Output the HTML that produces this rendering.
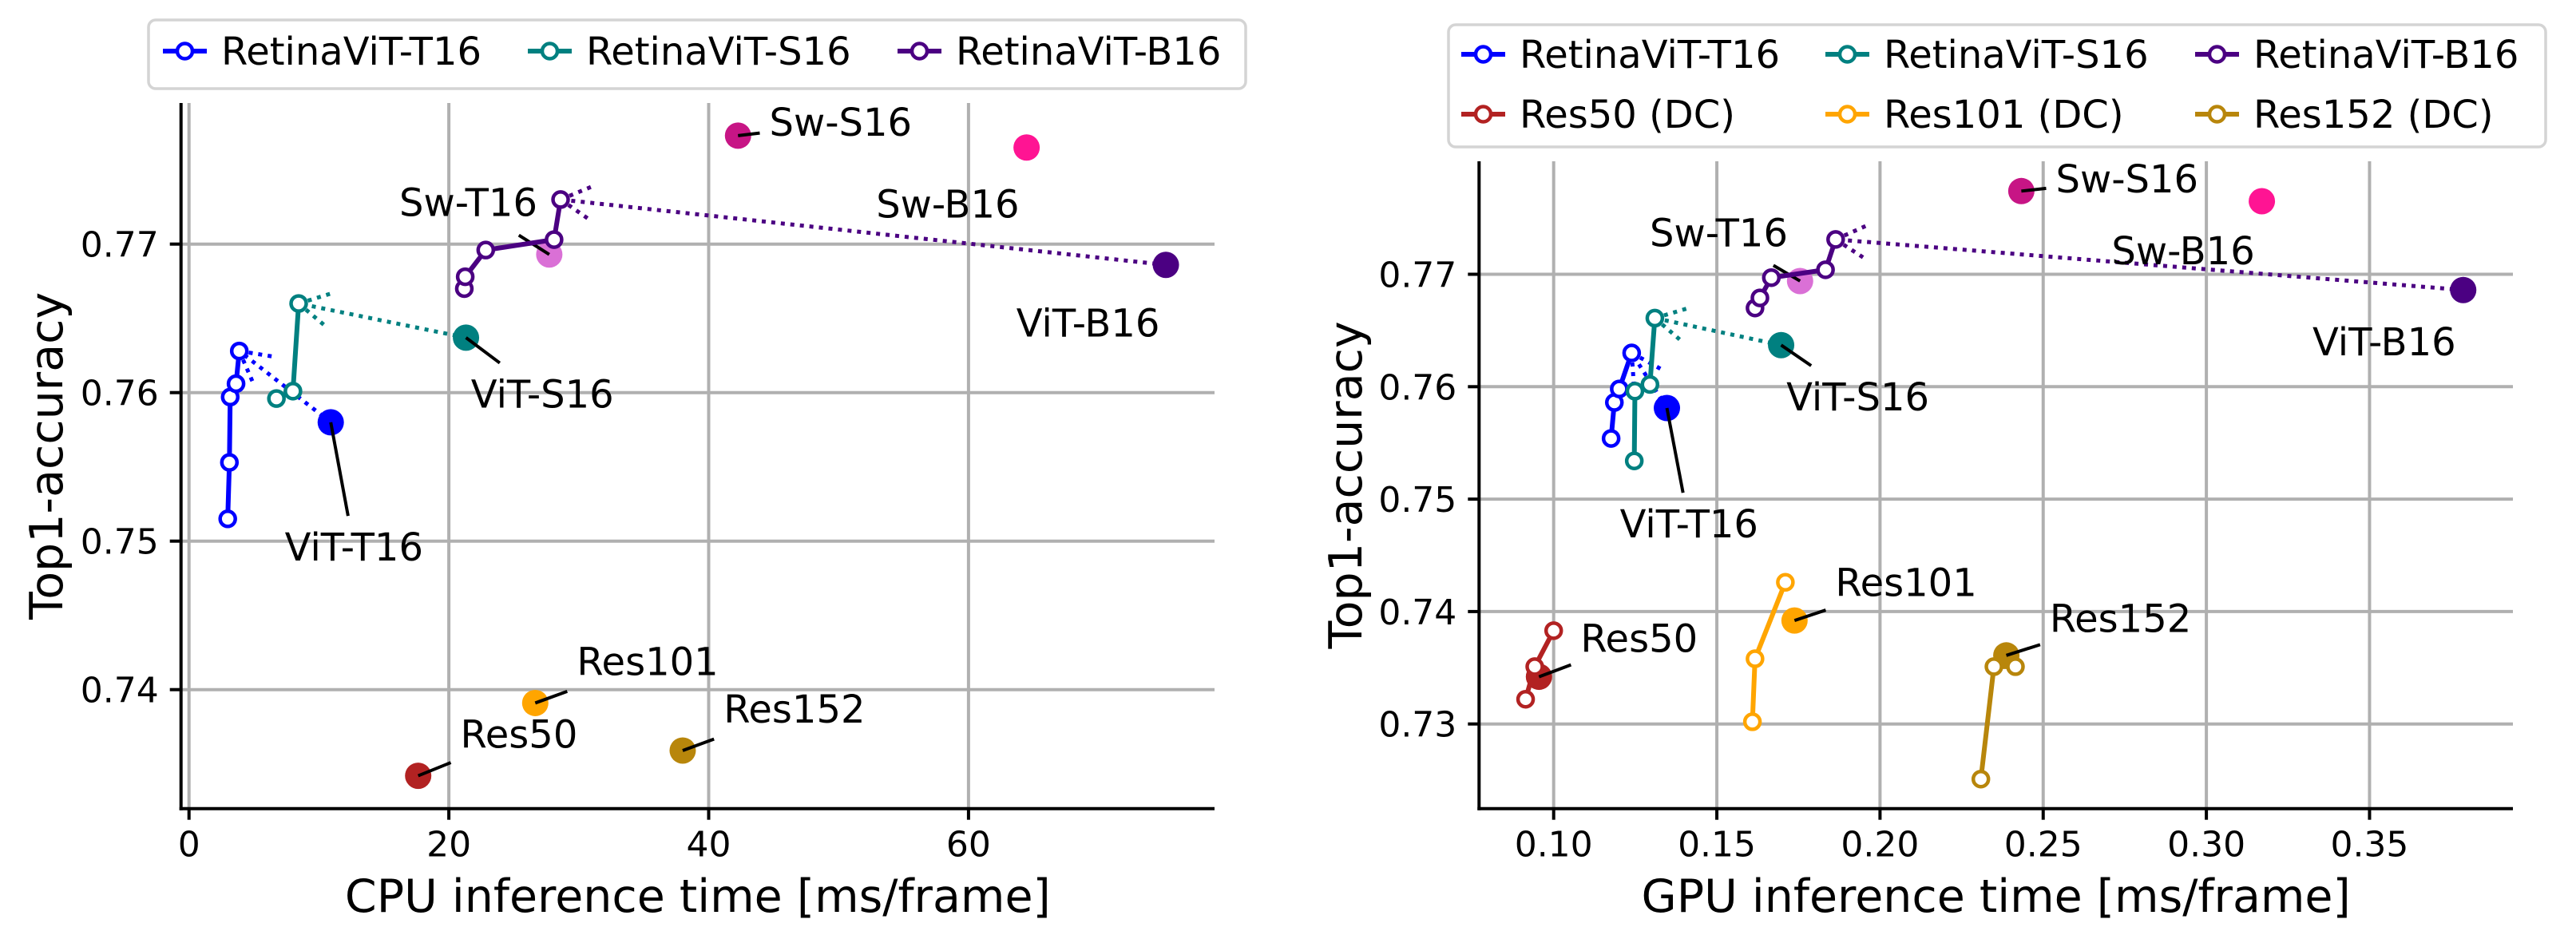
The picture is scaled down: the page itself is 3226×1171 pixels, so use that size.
<!DOCTYPE html>
<html><head><meta charset="utf-8">
<style>
html,body{margin:0;padding:0;background:#fff;}
svg{display:block;font-family:"DejaVu Sans","Liberation Sans",sans-serif;}
</style></head>
<body>
<svg id="fig" width="3226" height="1171" viewBox="0 0 3226 1171" xmlns="http://www.w3.org/2000/svg"></svg>
<script>
// ---------- data: CPU chart ----------
const cpuXTicks = [0, 20, 40, 60];
const cpuYTicks = [0.74, 0.75, 0.76, 0.77];
const cpuT16X = [2.98, 3.11, 3.17, 3.62, 3.87];
const cpuT16Y = [0.7515, 0.7553, 0.7597, 0.7606, 0.7628];
const cpuS16X = [6.73, 8.0, 8.44];
const cpuS16Y = [0.7596, 0.7601, 0.7660];
const cpuB16X = [21.19, 21.26, 22.84, 28.1, 28.6];
const cpuB16Y = [0.7670, 0.7678, 0.7696, 0.7703, 0.7730];
const cpuPointNames = ["ViT-T16", "ViT-S16", "ViT-B16", "Sw-T16", "Sw-S16", "Sw-B16", "Res50", "Res101", "Res152"];
const cpuPointX = [10.91, 21.32, 75.19, 27.73, 42.26, 64.47, 17.64, 26.65, 38.0];
const cpuPointY = [0.7580, 0.7637, 0.7686, 0.7693, 0.7773, 0.7765, 0.7342, 0.7391, 0.7359];
const cpuLabelX = [12.7, 27.2, 69.2, 21.5, 44.67, 58.4, 25.4, 35.3, 46.6];
const cpuLabelY = [0.7496, 0.7599, 0.7647, 0.7728, 0.7782, 0.7727, 0.7370, 0.7419, 0.7387];
const cpuLabelAnchor = ["middle", "middle", "middle", "middle", "start", "middle", "middle", "middle", "middle"];
const cpuShowLine = [true, true, false, true, true, false, true, true, true];

// ---------- data: GPU chart ----------
const gpuXTicks = [0.10, 0.15, 0.20, 0.25, 0.30, 0.35];
const gpuXTickLabels = ["0.10", "0.15", "0.20", "0.25", "0.30", "0.35"];
const gpuYTicks = [0.73, 0.74, 0.75, 0.76, 0.77];
const gpuT16X = [0.1176, 0.1186, 0.1201, 0.1239];
const gpuT16Y = [0.7554, 0.7586, 0.7598, 0.7630];
const gpuS16X = [0.1247, 0.1249, 0.1295, 0.1310];
const gpuS16Y = [0.7534, 0.7596, 0.7602, 0.7661];
const gpuB16X = [0.1617, 0.1632, 0.1667, 0.1833, 0.1864];
const gpuB16Y = [0.7670, 0.7679, 0.7697, 0.7704, 0.7731];
const gpuR50X = [0.0914, 0.0942, 0.1000];
const gpuR50Y = [0.7322, 0.7351, 0.7383];
const gpuR101X = [0.1609, 0.1617, 0.1710];
const gpuR101Y = [0.7302, 0.7358, 0.7426];
const gpuR152X = [0.2309, 0.2349, 0.2415];
const gpuR152Y = [0.7251, 0.7351, 0.7351];
const gpuPointNames = ["ViT-T16", "ViT-S16", "ViT-B16", "Sw-T16", "Sw-S16", "Sw-B16", "Res50", "Res101", "Res152"];
const gpuPointX = [0.1347, 0.1697, 0.3787, 0.1755, 0.2433, 0.3170, 0.0955, 0.1738, 0.2387];
const gpuPointY = [0.7581, 0.7637, 0.7686, 0.7694, 0.7774, 0.7765, 0.7342, 0.7392, 0.7361];
const gpuLabelX = [0.1415, 0.1932, 0.3545, 0.1506, 0.2757, 0.2929, 0.1262, 0.2080, 0.2737];
const gpuLabelY = [0.7478, 0.7591, 0.7640, 0.7737, 0.7785, 0.7721, 0.7376, 0.7426, 0.7394];
const gpuShowLine = [true, true, false, true, true, false, true, true, true];

const pointColors = ["#0000ff", "#008080", "#4b0082", "#da70d6", "#c71585", "#ff1493", "#b22222", "#ffa500", "#b8860b"];
const NS = "http://www.w3.org/2000/svg";
const fig = document.getElementById("fig");

function mk(tag, attrs, parent) {
  const e = document.createElementNS(NS, tag);
  for (const k in attrs) e.setAttribute(k, attrs[k]);
  (parent || fig).appendChild(e);
  return e;
}

function makeAxes(cfg) {
  const g = mk("g", {});
  
  
  const sx = cfg.sx, sy = cfg.sy;
  cfg.xTicks.forEach((t, i) => {
    const gl = mk("line", {x1: sx(t), x2: sx(t), y1: cfg.top, y2: cfg.bottom, stroke: "#b0b0b0", "stroke-width": 4}, g);
    
    
  });
  cfg.yTicks.forEach((t, i) => {
    const gl = mk("line", {x1: cfg.left, x2: cfg.right, y1: sy(t), y2: sy(t), stroke: "#b0b0b0", "stroke-width": 4}, g);
    
    
  });
  const sp1 = mk("line", {x1: cfg.left, x2: cfg.left, y1: cfg.top, y2: cfg.bottom + 2, stroke: "#000", "stroke-width": 4}, g);
  
  
  const sp2 = mk("line", {x1: cfg.left - 2, x2: cfg.right, y1: cfg.bottom, y2: cfg.bottom, stroke: "#000", "stroke-width": 4}, g);
  
  
  cfg.xTicks.forEach((t, i) => {
    mk("line", {x1: sx(t), x2: sx(t), y1: cfg.bottom, y2: cfg.bottom + 14, stroke: "#000", "stroke-width": 4}, g);
    const tl = mk("text", {x: sx(t), y: cfg.bottom + 60, "font-size": 44, "text-anchor": "middle"}, g);
    
    
    tl.textContent = cfg.xTickLabels ? cfg.xTickLabels[i] : String(t);
  });
  cfg.yTicks.forEach((t) => {
    mk("line", {x1: cfg.left - 14, x2: cfg.left, y1: sy(t), y2: sy(t), stroke: "#000", "stroke-width": 4}, g);
    const tl = mk("text", {x: cfg.left - 28, y: sy(t) + 16, "font-size": 44, "text-anchor": "end"}, g);
    
    
    tl.textContent = t.toFixed(2);
  });
  const xl = mk("text", {x: (cfg.left + cfg.right) / 2, y: 1142, "font-size": 57, "text-anchor": "middle"}, g);
  
  
  xl.textContent = cfg.xLabel;
  const yc = (cfg.top + cfg.bottom) / 2;
  const yl = mk("text", {x: cfg.yLabelX, y: yc, "font-size": 57, "text-anchor": "middle", transform: `rotate(-90 ${cfg.yLabelX} ${yc})`}, g);
  
  
  yl.textContent = "Top1-accuracy";
  return g;
}

function drawSeries(g, xs, ys, sx, sy, color, name) {
  const pts = xs.map((x, i) => sx(x) + "," + sy(ys[i])).join(" ");
  const pl = mk("polyline", {points: pts, fill: "none", stroke: color, "stroke-width": 6, "stroke-linejoin": "round"}, g);
  
  
  xs.forEach((x, i) => {
    const c = mk("circle", {cx: sx(x), cy: sy(ys[i]), r: 9.5, fill: "#fff", stroke: color, "stroke-width": 4.5}, g);
    
    
  });
}

function drawArrow(g, fromX, fromY, toX, toY, color, name) {
  const dash = "5,7";
  const l = mk("line", {x1: fromX, y1: fromY, x2: toX, y2: toY, stroke: color, "stroke-width": 5, "stroke-dasharray": dash}, g);
  
  
  const ang = Math.atan2(fromY - toY, fromX - toX);
  [-0.5, 0.5].forEach(d => {
    const h = mk("line", {x1: toX, y1: toY, x2: toX + 44 * Math.cos(ang + d), y2: toY + 44 * Math.sin(ang + d), stroke: color, "stroke-width": 5, "stroke-dasharray": dash}, g);
    
    
  });
}

function drawPoints(g, names, xs, ys, lx, ly, showLine, sx, sy, anchors) {
  names.forEach((n, i) => {
    const px = sx(xs[i]), py = sy(ys[i]);
    const t = mk("text", {x: sx(lx[i]), y: sy(ly[i]) + 17, "font-size": 48, "text-anchor": anchors ? anchors[i] : "middle"}, g);
    
    
    t.textContent = n;
    const bb = t.getBBox();
    const c = mk("circle", {cx: px, cy: py, r: 16.5, fill: pointColors[i]}, g);
    
    
    if (showLine[i]) {
      const cx = bb.x + bb.width / 2, cy = bb.y + bb.height / 2;
      const pad = 12;
      const hw = bb.width / 2 + pad, hh = bb.height / 2 + pad;
      const dx = px - cx, dy = py - cy;
      const s = Math.min(hw / Math.abs(dx || 1e-6), hh / Math.abs(dy || 1e-6));
      const ex = cx + dx * s, ey = cy + dy * s;
      const ln = mk("line", {x1: px, y1: py, x2: ex, y2: ey, stroke: "#000", "stroke-width": 4}, g);
      
      
    }
  });
}

function legend(x, y, w, h, items) {
  const g = mk("g", {});
  
  
  const r = mk("rect", {x: x, y: y, width: w, height: h, rx: 9, fill: "#fff", stroke: "#d4d4d4", "stroke-width": 3.5}, g);
  
  
  items.forEach(it => {
    const e = mk("g", {}, g);
    
    
    mk("line", {x1: it.x, x2: it.x + 55, y1: it.y, y2: it.y, stroke: it.c, "stroke-width": 6}, e);
    mk("circle", {cx: it.x + 27.5, cy: it.y, r: 9.5, fill: "#fff", stroke: it.c, "stroke-width": 4.5}, e);
    const t = mk("text", {x: it.x + 73, y: it.y + 17, "font-size": 48}, e);
    t.textContent = it.t;
  });
}

// ---------- CPU chart ----------
const csx = v => 236.7 + v * 16.27;
const csy = v => 863.7 - (v - 0.74) * 18600;
const gc = makeAxes({name: "cpu-chart", sx: csx, sy: csy, left: 226.7, right: 1521, top: 129, bottom: 1012.7,
  xTicks: cpuXTicks, yTicks: cpuYTicks, xLabel: "CPU inference time [ms/frame]", yLabelX: 78});
drawArrow(gc, csx(cpuPointX[0]), csy(cpuPointY[0]), csx(cpuT16X[cpuT16X.length - 1]), csy(cpuT16Y[cpuT16Y.length - 1]), "#0000ff", "t16");
drawArrow(gc, csx(cpuPointX[1]), csy(cpuPointY[1]), csx(cpuS16X[cpuS16X.length - 1]), csy(cpuS16Y[cpuS16Y.length - 1]), "#008080", "s16");
drawArrow(gc, csx(cpuPointX[2]), csy(cpuPointY[2]), csx(cpuB16X[cpuB16X.length - 1]), csy(cpuB16Y[cpuB16Y.length - 1]), "#4b0082", "b16");
drawPoints(gc, cpuPointNames, cpuPointX, cpuPointY, cpuLabelX, cpuLabelY, cpuShowLine, csx, csy, cpuLabelAnchor);
drawSeries(gc, cpuT16X, cpuT16Y, csx, csy, "#0000ff", "retinavit-t16");
drawSeries(gc, cpuS16X, cpuS16Y, csx, csy, "#008080", "retinavit-s16");
drawSeries(gc, cpuB16X, cpuB16Y, csx, csy, "#4b0082", "retinavit-b16");
legend(186, 25, 1374, 86, [
  {x: 204, y: 64, c: "#0000ff", t: "RetinaViT-T16"},
  {x: 661, y: 64, c: "#008080", t: "RetinaViT-S16"},
  {x: 1124, y: 64, c: "#4b0082", t: "RetinaViT-B16"}
]);

// ---------- GPU chart ----------
const gsx = v => 1945.7 + (v - 0.10) * 4087;
const gsy = v => 906.7 - (v - 0.73) * 14080;
const gg = makeAxes({name: "gpu-chart", sx: gsx, sy: gsy, left: 1852.3, right: 3147, top: 202, bottom: 1012.7,
  xTicks: gpuXTicks, xTickLabels: gpuXTickLabels, yTicks: gpuYTicks, xLabel: "GPU inference time [ms/frame]", yLabelX: 1705});
drawArrow(gg, gsx(gpuPointX[0]), gsy(gpuPointY[0]), gsx(gpuT16X[gpuT16X.length - 1]), gsy(gpuT16Y[gpuT16Y.length - 1]), "#0000ff", "t16");
drawArrow(gg, gsx(gpuPointX[1]), gsy(gpuPointY[1]), gsx(gpuS16X[gpuS16X.length - 1]), gsy(gpuS16Y[gpuS16Y.length - 1]), "#008080", "s16");
drawArrow(gg, gsx(gpuPointX[2]), gsy(gpuPointY[2]), gsx(gpuB16X[gpuB16X.length - 1]), gsy(gpuB16Y[gpuB16Y.length - 1]), "#4b0082", "b16");
drawPoints(gg, gpuPointNames, gpuPointX, gpuPointY, gpuLabelX, gpuLabelY, gpuShowLine, gsx, gsy, null);
drawSeries(gg, gpuT16X, gpuT16Y, gsx, gsy, "#0000ff", "retinavit-t16");
drawSeries(gg, gpuS16X, gpuS16Y, gsx, gsy, "#008080", "retinavit-s16");
drawSeries(gg, gpuB16X, gpuB16Y, gsx, gsy, "#4b0082", "retinavit-b16");
drawSeries(gg, gpuR50X, gpuR50Y, gsx, gsy, "#b22222", "res50-dc");
drawSeries(gg, gpuR101X, gpuR101Y, gsx, gsy, "#ffa500", "res101-dc");
drawSeries(gg, gpuR152X, gpuR152Y, gsx, gsy, "#b8860b", "res152-dc");
legend(1814, 31, 1374, 153, [
  {x: 1830, y: 68, c: "#0000ff", t: "RetinaViT-T16"},
  {x: 2286, y: 68, c: "#008080", t: "RetinaViT-S16"},
  {x: 2749, y: 68, c: "#4b0082", t: "RetinaViT-B16"},
  {x: 1830, y: 143, c: "#b22222", t: "Res50 (DC)"},
  {x: 2286, y: 143, c: "#ffa500", t: "Res101 (DC)"},
  {x: 2749, y: 143, c: "#b8860b", t: "Res152 (DC)"}
]);
</script>
</body></html>
